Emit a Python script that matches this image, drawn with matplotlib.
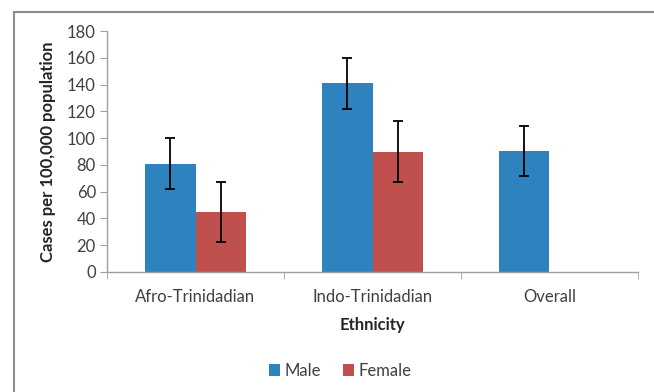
import matplotlib.pyplot as plt
import numpy as np
from matplotlib.lines import Line2D

plt.rcParams['font.family'] = ['Lato', 'DejaVu Sans']

# -----------------------------
# Data
# -----------------------------
groups = ["Afro-Trinidadian", "Indo-Trinidadian", "Overall"]
male = [81, 141, 90.5]
male_err = [19, 19, 18.7]
female = [45, 90, np.nan]
female_err = [22.5, 22.5, np.nan]

blue = "#2e82be"
red = "#c0504d"

fig = plt.figure(figsize=(6.54, 3.92), dpi=100)
ax = fig.add_axes([107 / 654, 1 - 272 / 392, 531 / 654, 241 / 392])

x = np.arange(len(groups))
w = 0.285

ax.bar(x - w / 2, male, w, color=blue, label="Male",
       yerr=male_err, capsize=3.5,
       error_kw=dict(ecolor="black", elinewidth=1.3, capthick=1.3))
ax.bar(x + w / 2, female, w, color=red, label="Female",
       yerr=female_err, capsize=3.5,
       error_kw=dict(ecolor="black", elinewidth=1.3, capthick=1.3))

ax.set_xlim(-0.5, len(groups) - 0.5)
ax.set_ylim(0, 180)
ax.set_yticks(np.arange(0, 181, 20))
ax.set_xticks(x)
ax.set_xticklabels(groups)
ax.set_xticks(np.arange(-0.5, len(groups), 1), minor=True)

for s in ["top", "right"]:
    ax.spines[s].set_visible(False)
for s in ["left", "bottom"]:
    ax.spines[s].set_color("#a0a0a0")
    ax.spines[s].set_linewidth(1.0)

fs = 12
ax.tick_params(axis="x", which="major", length=0, pad=12, labelsize=fs, colors="#404040")
ax.tick_params(axis="x", which="minor", length=5, color="#a0a0a0")
ax.tick_params(axis="y", length=5, color="#a0a0a0", labelsize=fs, labelcolor="#404040", pad=3)

ax.set_xlabel("Ethnicity", fontsize=fs, fontweight="bold", color="#262626", labelpad=9)
ax.set_ylabel("Cases per 100,000 population", fontsize=fs, fontweight="bold",
              color="#262626", labelpad=8)

fig.legend(loc="center", bbox_to_anchor=(340 / 654, 1 - 371 / 392), ncol=2,
           frameon=False, fontsize=fs, handlelength=0.7, handleheight=0.7,
           handletextpad=0.25, columnspacing=1.3, labelcolor="#404040")

# outer chart border (extends beyond the image)
fig.add_artist(Line2D([14 / 654, 14 / 654], [0, 1 - 12 / 392], color="#8c8c8c", lw=1.5))
fig.add_artist(Line2D([14 / 654, 1], [1 - 12 / 392, 1 - 12 / 392], color="#8c8c8c", lw=1.5))

fig.savefig("out.png", dpi=100)
